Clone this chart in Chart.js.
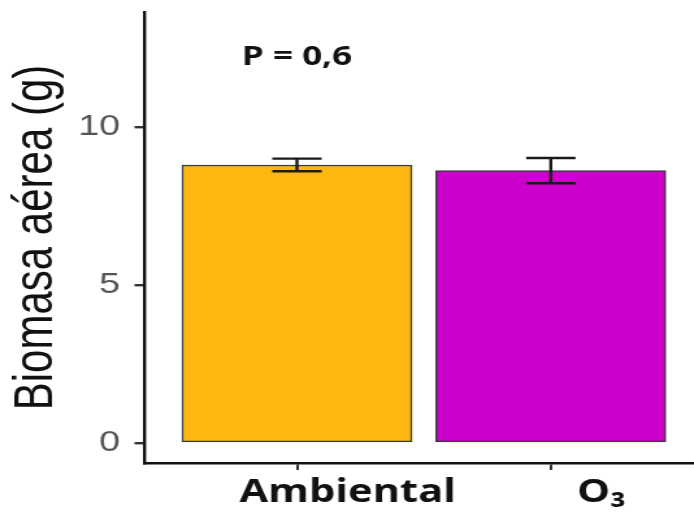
<!DOCTYPE html>
<html lang="es">
<head>
<meta charset="utf-8">
<title>Biomasa aérea</title>
<script src="https://cdn.jsdelivr.net/npm/chart.js@4.4.1/dist/chart.umd.min.js"></script>
<style>
    html, body { margin: 0; padding: 0; background: #fff; overflow: hidden; }
    /* la figura original está estirada en horizontal */
    #wrap { width: 534px; height: 513px; transform-origin: 0 0; transform: scaleX(1.2996); }
</style>
</head>
<body>
<div id="wrap"><canvas id="chart"></canvas></div>
<script>
// Datos
const categories = ['Ambiental', 'O₃'];
const means = [8.8, 8.62];
const errors = [0.2, 0.4];
const yTicks = [0, 5, 10];
const barColors = ['#FDB70F', '#CC00CC'];
const pLabel = 'P = 0,6';
const pLabelPos = { x: 1, y: 12.2 };

// Barras de error
const errorBars = {
    id: 'errorBars',
    afterDatasetsDraw(chart) {
        const { ctx, scales: { x, y } } = chart;
        ctx.save();
        ctx.strokeStyle = '#1a1a1a';
        ctx.lineWidth = 2.4;
        means.forEach((m, i) => {
            const px = x.getPixelForValue(i + 1);
            const top = y.getPixelForValue(m + errors[i]);
            const bot = y.getPixelForValue(m - errors[i]);
            const half = 19;
            ctx.beginPath();
            ctx.moveTo(px, top); ctx.lineTo(px, bot);
            ctx.moveTo(px - half, top); ctx.lineTo(px + half, top);
            ctx.moveTo(px - half, bot); ctx.lineTo(px + half, bot);
            ctx.stroke();
        });
        ctx.restore();
    }
};

// Texto del valor P
const pValue = {
    id: 'pValue',
    afterDraw(chart) {
        const { ctx, scales: { x, y } } = chart;
        ctx.save();
        ctx.font = 'bold 27px "Open Sans"';
        ctx.fillStyle = '#111';
        ctx.textAlign = 'center';
        ctx.textBaseline = 'middle';
        ctx.fillText(pLabel, x.getPixelForValue(pLabelPos.x), y.getPixelForValue(pLabelPos.y));
        ctx.restore();
    }
};

function initChart() {
    const ctx = document.getElementById('chart').getContext('2d');
    new Chart(ctx, {
        type: 'bar',
        data: {
            datasets: [{
                data: categories.map((c, i) => ({ x: i + 1, y: means[i] })),
                backgroundColor: barColors,
                borderColor: '#3a3a3a',
                borderWidth: 1.5,
                borderSkipped: false,
                barThickness: 177
            }]
        },
        options: {
            responsive: true,
            maintainAspectRatio: false,
            animation: false,
            layout: { padding: { top: 12, right: 0, left: 0, bottom: 0 } },
            plugins: {
                legend: { display: false },
                tooltip: { enabled: false }
            },
            scales: {
                x: {
                    type: 'linear',
                    min: 0.401,
                    max: 2.564,
                    offset: false,
                    afterBuildTicks: s => { s.ticks = categories.map((c, i) => ({ value: i + 1 })); },
                    afterFit: s => { s.height = 50; s.paddingLeft = 0; s.paddingRight = 0; },
                    grid: { offset: false, drawOnChartArea: false, drawTicks: true, tickLength: 7, color: '#333', lineWidth: 2 },
                    border: { display: true, color: '#111', width: 2.6 },
                    ticks: {
                        color: '#111',
                        padding: 4,
                        labelOffset: 39,
                        font: { family: 'Open Sans', size: 32, weight: 'bold' },
                        callback: v => categories[v - 1]
                    }
                },
                y: {
                    min: -0.63,
                    max: 13.64,
                    afterBuildTicks: s => { s.ticks = yTicks.map(v => ({ value: v })); },
                    afterFit: s => { s.width = 111.5; s.paddingTop = 0; s.paddingBottom = 0; },
                    grid: { drawOnChartArea: false, drawTicks: true, tickLength: 8, color: '#333', lineWidth: 2.4 },
                    border: { display: true, color: '#111', width: 2.4 },
                    ticks: {
                        color: '#555',
                        padding: 11,
                        font: { family: 'Liberation Sans', size: 29 }
                    },
                    title: {
                        display: true,
                        text: 'Biomasa aérea (g)',
                        color: '#111',
                        padding: { top: 3, bottom: 0 },
                        font: { family: 'Liberation Sans', size: 42 }
                    }
                }
            }
        },
        plugins: [errorBars, pValue]
    });
}

document.addEventListener('DOMContentLoaded', initChart);
</script>
</body>
</html>
